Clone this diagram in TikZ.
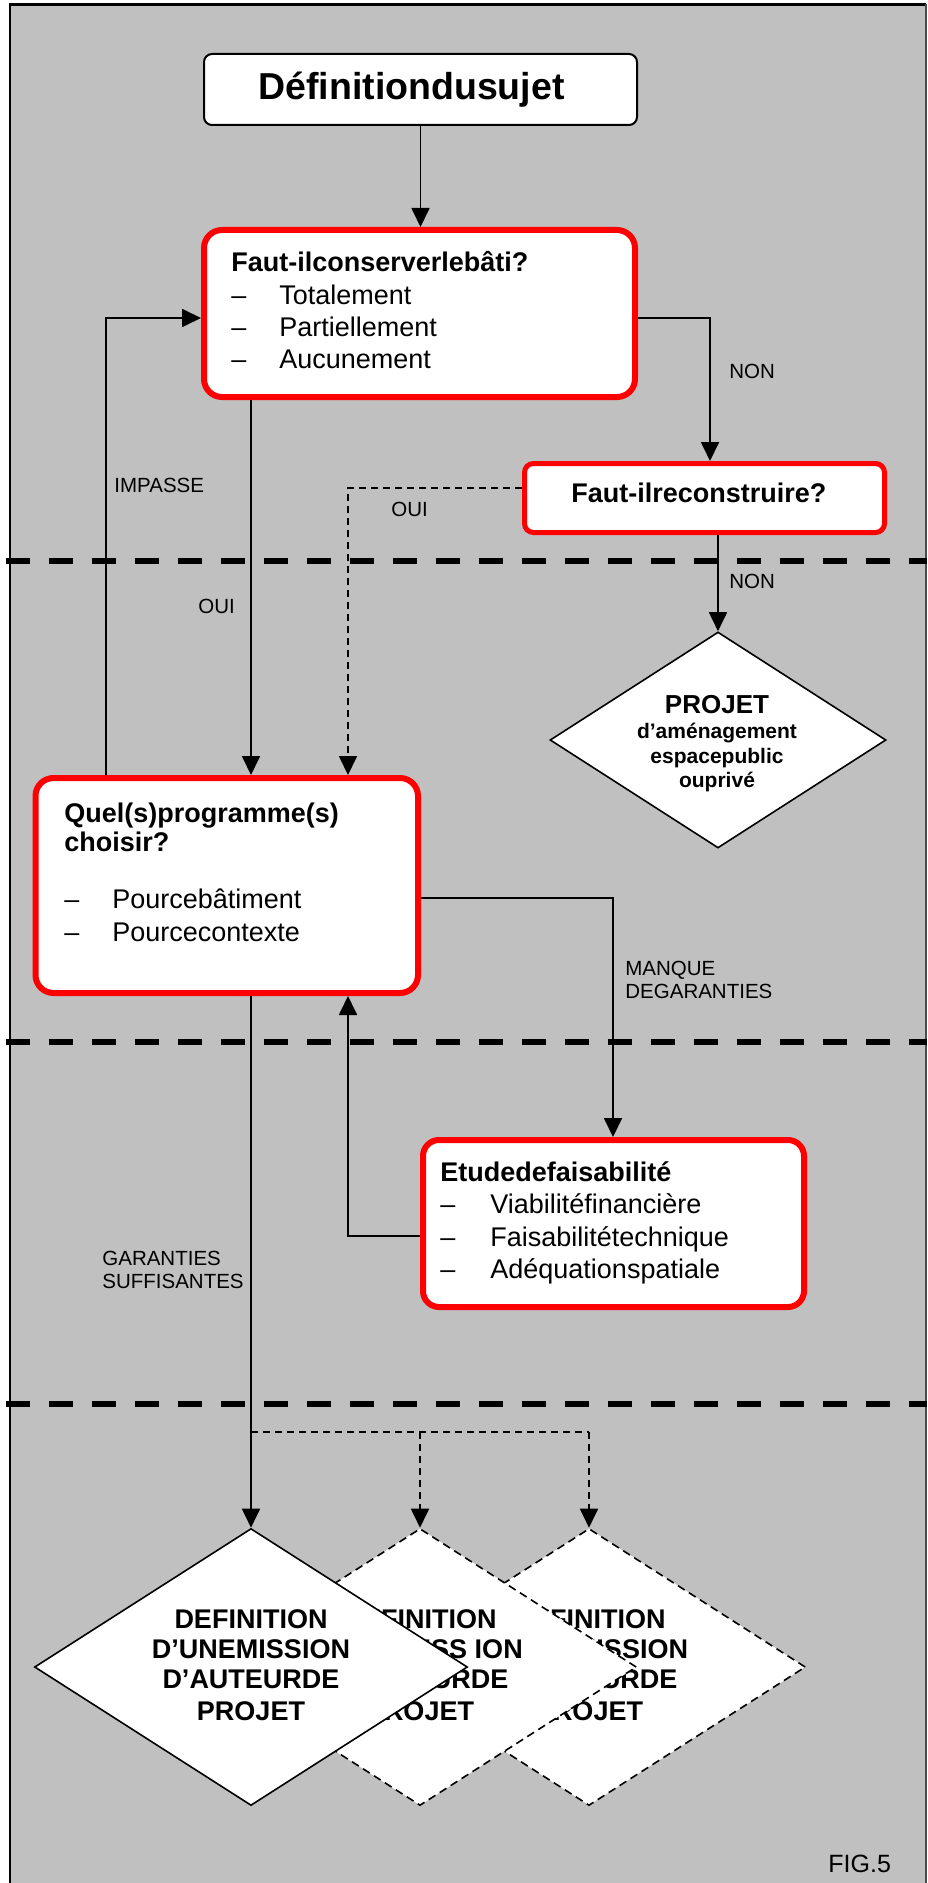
\documentclass[tikz,border=0pt]{standalone}
\usepackage{fontspec}
\setmainfont{Liberation Sans}
\usetikzlibrary{arrows.meta,shapes.geometric}
\definecolor{bg}{HTML}{C0C0C0}
\definecolor{rd}{HTML}{FF0000}
\tikzset{
 redbox/.style={draw=rd, line width=3pt, fill=white, inner sep=0pt, rounded corners=9pt},
 titlebox/.style={draw=black, line width=1pt, fill=white, rounded corners=4pt, inner sep=0pt},
 arr/.style={line width=0.9pt, -{Triangle[length=9.5pt,width=9pt]}},
 dashline/.style={line width=0.9pt, dash pattern=on 3.5pt off 2.5pt},
 sepline/.style={line width=2.65pt, dash pattern=on 12pt off 9.5pt},
 diam/.style={diamond, draw, fill=white, line width=0.8pt, inner sep=0pt},
 txt/.style={anchor=base west, inner sep=0pt, font=\fontsize{13.5}{16}\selectfont},
 btxt/.style={anchor=base west, inner sep=0pt, font=\fontsize{13.5}{16}\selectfont\bfseries},
 lbl/.style={anchor=base west, inner sep=0pt, font=\fontsize{10.25}{12}\selectfont},
 ctxt/.style={anchor=base, inner sep=0pt, font=\fontsize{13.5}{16}\selectfont\bfseries},
}
\begin{document}
\begin{tikzpicture}[x=0.5pt,y=-0.5pt]
\useasboundingbox (0,0) rectangle (927,1883);
\fill[white] (0,0) rectangle (927,1883);
\fill[bg] (10,4.5) rectangle (926,1883);
\draw[line width=1.2pt] (10,1883) -- (10,4.5) -- (926,4.5);
\draw[line width=1pt, black!70] (926,4.5) -- (926,1883);

% title
\node[titlebox, minimum width=216.5pt, minimum height=35.5pt] (t) at (420.5,89.5) {};
\node[anchor=base west, inner sep=0pt, font=\fontsize{18.75}{22}\selectfont\bfseries] (tt) at (258,100) {Définitiondusujet};

% box 2
\node[redbox, minimum width=215.5pt, minimum height=83.5pt] (b2) at (419.5,313.5) {};
\node[btxt] (b2t) at (231,271.5) {Faut-ilconserverlebâti?};
\node[txt] (b2d1) at (231,305) {–};
\node[txt] (b2l1) at (279,305) {Totalement};
\node[txt] (b2d2) at (231,337) {–};
\node[txt] (b2l2) at (279,337) {Partiellement};
\node[txt] (b2d3) at (231,369) {–};
\node[txt] (b2l3) at (279,369) {Aucunement};

% box 3
\node[redbox, rounded corners=4.5pt, line width=2.5pt, minimum width=180pt, minimum height=34.5pt] (b3) at (704.5,498) {};
\node[btxt] (b3t) at (571,502) {Faut-ilreconstruire?};

% PROJET diamond
\node[diam, minimum width=168pt, minimum height=108pt] (p) at (718,740) {};
\node[anchor=base, inner sep=0pt, font=\fontsize{13}{15}\selectfont\bfseries] (p1) at (717,713) {PROJET};
\node[anchor=base, inner sep=0pt, font=\fontsize{10.5}{12}\selectfont\bfseries] (p2) at (717,738) {d’aménagement};
\node[anchor=base, inner sep=0pt, font=\fontsize{10.5}{12}\selectfont\bfseries] (p3) at (717,763) {espacepublic};
\node[anchor=base, inner sep=0pt, font=\fontsize{10.5}{12}\selectfont\bfseries] (p4) at (717,787) {ouprivé};

% Quel box
\node[redbox, minimum width=191.25pt, minimum height=107.5pt] (q) at (226.75,885.5) {};
\node[btxt] (qt1) at (64,822) {Quel(s)programme(s)};
\node[btxt] (qt2) at (64,851) {choisir?};
\node[txt] (qd1) at (64,908) {–};
\node[txt] (ql1) at (112,908) {Pourcebâtiment};
\node[txt] (qd2) at (64,941) {–};
\node[txt] (ql2) at (112,941) {Pourcecontexte};

% Etude box
\node[redbox, rounded corners=8pt, minimum width=190.5pt, minimum height=83.5pt] (e) at (613.5,1223.5) {};
\node[btxt] (et) at (440,1181) {Etudedefaisabilité};
\node[txt] (ed1) at (440,1213) {–};
\node[txt] (el1) at (490,1213) {Viabilitéfinancière};
\node[txt] (ed2) at (440,1246) {–};
\node[txt] (el2) at (490,1246) {Faisabilitétechnique};
\node[txt] (ed3) at (440,1278) {–};
\node[txt] (el3) at (490,1278) {Adéquationspatiale};

% coordinates
\coordinate (c1) at (106,318);
\coordinate (c2) at (710,318);
\coordinate (c3) at (348,488);
\coordinate (c4) at (251,0);
\coordinate (c5) at (718,0);
\coordinate (c6) at (613,898);
\coordinate (c7) at (348,1236);
\coordinate (c8) at (251,1432);
\coordinate (c9) at (420,1432);
\coordinate (c10) at (589,1432);

% bottom diamonds
\node[diam, dash pattern=on 4pt off 2.5pt, minimum width=216.5pt, minimum height=138.5pt] (d3) at (589,1667) {};
\node[ctxt] (d3a) at (589,1628) {DEFINITION};
\node[ctxt] (d3b) at (589,1658) {D’UNEMISSION};
\node[ctxt] (d3c) at (589,1688) {D’AUTEURDE};
\node[ctxt] (d3d) at (589,1720) {PROJET};
\node[diam, dash pattern=on 4pt off 2.5pt, minimum width=216.5pt, minimum height=138.5pt] (d2) at (420,1667) {};
\node[ctxt] (d2a) at (420,1628) {DEFINITION};
\node[ctxt] (d2b) at (420,1658) {D’UNEMISS ION};
\node[ctxt] (d2c) at (420,1688) {D’AUTEURDE};
\node[ctxt] (d2d) at (420,1720) {PROJET};
\node[diam, minimum width=216.5pt, minimum height=138.5pt] (d1) at (251,1667) {};
\node[ctxt] (d1a) at (251,1628) {DEFINITION};
\node[ctxt] (d1b) at (251,1658) {D’UNEMISSION};
\node[ctxt] (d1c) at (251,1688) {D’AUTEURDE};
\node[ctxt] (d1d) at (251,1720) {PROJET};

% connectors
\draw[arr] (t.south) -- (t.south |- b2.north);
\draw[arr] (c1 |- q.north) -- (c1) -- (c1 -| b2.west);
\draw[arr] (c2 -| b2.east) -- (c2) -- (c2 |- b3.north);
\draw[arr, dashline] (c3 -| b3.west) -- (c3) -- (c3 |- q.north);
\draw[arr] (c4 |- b2.south) -- (c4 |- q.north);
\draw[arr] (c5 |- b3.south) -- (p.north);
\draw[arr] (c6 -| q.east) -- (c6) -- (c6 |- e.north);
\draw[arr] (c7 -| e.west) -- (c7) -- (c7 |- q.south);
\draw[arr] (c4 |- q.south) -- (d1.north);
\draw[dashline] (c8) -- (c10);
\draw[arr, dashline] (c9) -- (d2.north);
\draw[arr, dashline] (c10) -- (d3.north);

% labels
\node[lbl] (limp) at (114,492) {IMPASSE};
\node[lbl] (lnon1) at (729,378.6) {NON};
\node[lbl] (loui1) at (391,516) {OUI};
\node[lbl] (loui2) at (198,613) {OUI};
\node[lbl] (lnon2) at (729,588) {NON};
\node[lbl] (lman1) at (625,975) {MANQUE};
\node[lbl] (lman2) at (625,998) {DEGARANTIES};
\node[lbl] (lgar1) at (102,1265) {GARANTIES};
\node[lbl] (lgar2) at (102,1288) {SUFFISANTES};
\node[anchor=base west, inner sep=0pt, font=\fontsize{12.5}{14}\selectfont] (fig) at (828,1872) {FIG.5};

% separators
\draw[sepline] (5.5,561) -- (927,561);
\draw[sepline] (5.5,1042) -- (927,1042);
\draw[sepline] (5.5,1404) -- (927,1404);
\end{tikzpicture}
\end{document}
